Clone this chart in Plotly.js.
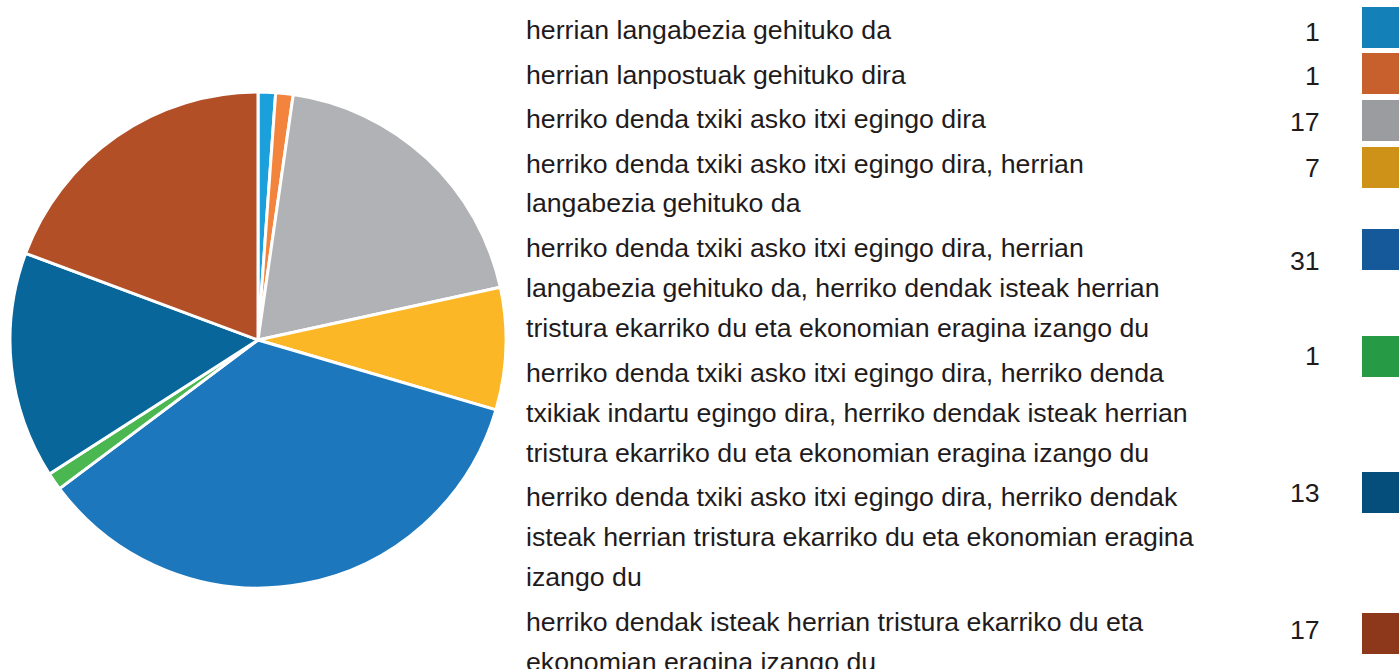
<!DOCTYPE html>
<html>
<head>
<meta charset="utf-8">
<script src="https://cdn.plot.ly/plotly-3.0.1.min.js"></script>
<style>html,body{margin:0;padding:0;background:#fff;}#chart{width:1399px;height:669px;}</style>
</head>
<body>
<div id="chart"></div>
<script>
// ---- data ----
const categories = [
  "herrian langabezia gehituko da",
  "herrian lanpostuak gehituko dira",
  "herriko denda txiki asko itxi egingo dira",
  "herriko denda txiki asko itxi egingo dira, herrian<br>langabezia gehituko da",
  "herriko denda txiki asko itxi egingo dira, herrian<br>langabezia gehituko da, herriko dendak isteak herrian<br>tristura ekarriko du eta ekonomian eragina izango du",
  "herriko denda txiki asko itxi egingo dira, herriko denda<br>txikiak indartu egingo dira, herriko dendak isteak herrian<br>tristura ekarriko du eta ekonomian eragina izango du",
  "herriko denda txiki asko itxi egingo dira, herriko dendak<br>isteak herrian tristura ekarriko du eta ekonomian eragina<br>izango du",
  "herriko dendak isteak herrian tristura ekarriko du eta<br>ekonomian eragina izango du"
];
const values = [1, 1, 17, 7, 31, 1, 13, 17];
const sliceColors = ["#1ba0db", "#f3843e", "#b1b2b5", "#fbb726", "#1c77bc", "#4ab751", "#08669a", "#b34f26"];
const keyColors = ["#1480b8", "#c8602d", "#9b9ca0", "#cf9218", "#15599a", "#279a45", "#054e7b", "#8e381b"];

// ---- layout helpers (pixel positions) ----
const W = 1399, H = 669;
const px = x => x / W;
const py = y => 1 - y / H;
const keyTop = [7, 53, 100, 147, 229, 336, 472, 613];
const numCenter = [32, 76, 122, 168, 261, 356, 493, 630];
const textColor = "#1f1b1c";
const font = {family: "Liberation Sans, Arial, sans-serif", size: 26.7, color: textColor};

const annotations = [];
const shapes = [];
let lineY = 30;
categories.forEach((lab, i) => {
  const lines = lab.split("<br>");
  lines.forEach((ln, j) => {
    annotations.push({
      xref: "paper", yref: "paper", x: px(524), y: py(lineY),
      xanchor: "left", yanchor: "middle", showarrow: false,
      text: ln, font: font
    });
    if (j < lines.length - 1) lineY += 40;
  });
  lineY += 44.5;
  annotations.push({
    xref: "paper", yref: "paper", x: px(1322), y: py(numCenter[i]),
    xanchor: "right", yanchor: "middle", showarrow: false,
    text: String(values[i]), font: font
  });
  shapes.push({
    type: "rect", xref: "paper", yref: "paper",
    x0: px(1362), x1: px(1402), y0: py(keyTop[i] + 41), y1: py(keyTop[i]),
    fillcolor: keyColors[i], line: {width: 0}
  });
});

const trace = {
  type: "pie",
  values: values,
  labels: categories.map(c => c.replace(/<br>/g, " ")),
  sort: false,
  direction: "clockwise",
  rotation: 0,
  textinfo: "none",
  hoverinfo: "label+value",
  marker: {colors: sliceColors, line: {color: "#ffffff", width: 3}},
  domain: {x: [px(10), px(506)], y: [81 / H, 577 / H]}
};

Plotly.newPlot("chart", [trace], {
  width: W, height: H,
  margin: {l: 0, r: 0, t: 0, b: 0},
  showlegend: false,
  paper_bgcolor: "#ffffff",
  annotations: annotations,
  shapes: shapes
}, {displayModeBar: false, staticPlot: true});
</script>
</body>
</html>
